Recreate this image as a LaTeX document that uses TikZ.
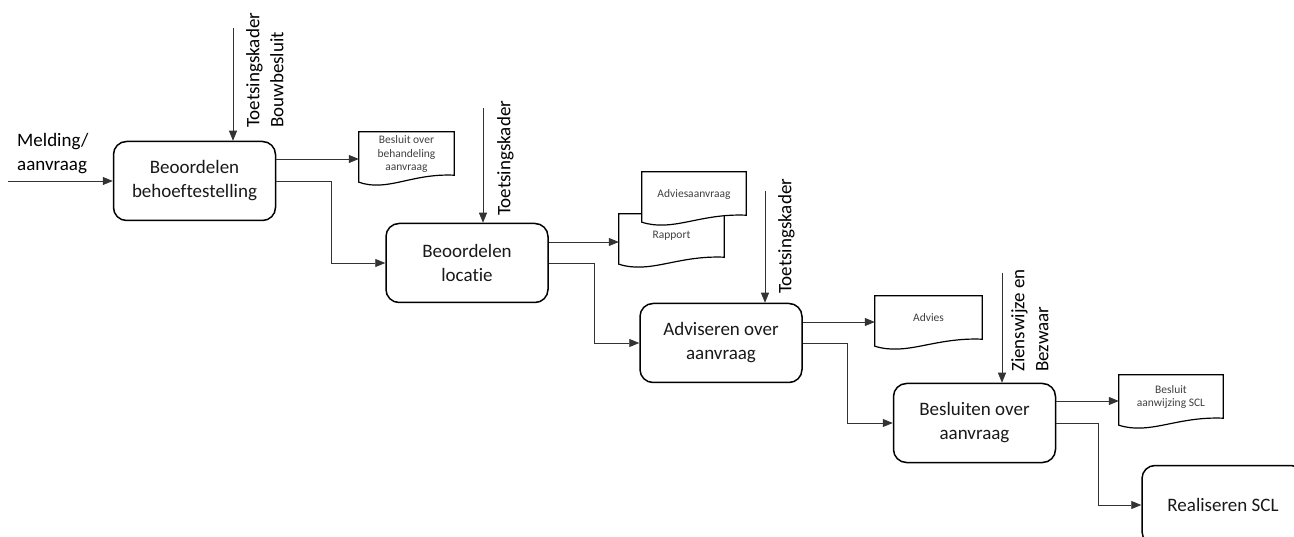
\documentclass[tikz,border=0pt]{standalone}
\usepackage{fontspec}
\setmainfont[Ligatures=NoCommon]{Carlito}
\usetikzlibrary{arrows.meta,calc,positioning}

\tikzset{
  proc/.style={draw, line width=1.5pt, rounded corners=13pt, minimum width=162pt, minimum height=79pt, align=center, text=black!90, font=\fontsize{19}{24}\selectfont},
  docnode/.style={fill=white, inner sep=0pt, minimum height=44pt, align=center, text=black!75, font=\fontsize{11.5}{13.5}\selectfont},
  docline/.style={line width=1.2pt},
  flow/.style={draw=black!80, line width=0.8pt, -{Triangle[length=10pt,width=8pt]}},
  vlabel/.style={rotate=90, anchor=north west, align=left, inner sep=0pt, font=\fontsize{19}{24}\selectfont},
}

% outline of a document with a wavy bottom
\newcommand{\docoutline}[1]{%
  \draw[docline] (#1.north west) -- (#1.north east) -- ([yshift=1pt]#1.south east)
    .. controls ($(#1.south west)!0.55!(#1.south east)+(0pt,3pt)$) and ($(#1.south west)!0.3!(#1.south east)+(0pt,-16pt)$) .. ([yshift=-6pt]#1.south west) -- cycle;}

\begin{document}
\begin{tikzpicture}[x=1pt, y=-1pt]
    \useasboundingbox (0,0) rectangle (1294,537);
    \fill[white] (0,0) rectangle (1294,537);
    \clip (0,0) rectangle (1294,537);

    % Processes
    \node[proc] (b1) at (194.5,181) {Beoordelen\\behoeftestelling};
    \node[proc] (b2) at (467,263) {Beoordelen\\locatie};
    \node[proc] (b3) at (721,343) {Adviseren over\\aanvraag};
    \node[proc] (b4) at (974.5,423) {Besluiten over\\aanvraag};
    \node[proc] (b5) at (1223,505) {Realiseren SCL};

    % Input
    \coordinate (in) at (8,181);
    \node[anchor=west, align=left, inner sep=0pt, font=\fontsize{19}{24}\selectfont] (inlab) at (17,154) {Melding/\\aanvraag};
    \draw[flow] (in) -- (b1.west);

    % Controls
    \coordinate (c1) at (233,28);
    \coordinate (c2) at (483,108);
    \coordinate (c3) at (765,191);
    \coordinate (c4) at (1002,273);
    \draw[flow] (c1) -- (c1 |- b1.north);
    \draw[flow] (c2) -- (c2 |- b2.north);
    \draw[flow] (c3) -- (c3 |- b3.north);
    \draw[flow] (c4) -- (c4 |- b4.north);
    \node[vlabel] (l1) at (246,128) {Toetsingskader\\Bouwbesluit};
    \node[vlabel] (l2) at (497,216) {Toetsingskader};
    \node[vlabel] (l3) at (778,294) {Toetsingskader};
    \node[vlabel] (l4) at (1011,372) {Zienswijze en\\Bezwaar};

    % Documents
    \node[docnode, minimum width=95pt] (d1) at (406.5,154) {Besluit over\\behandeling\\aanvraag};
    \docoutline{d1}
    \node[docnode, minimum width=105pt] (d3) at (671.5,236) {Rapport};
    \docoutline{d3}
    \node[docnode, minimum width=104pt] (d2) at (694,194) {Adviesaanvraag};
    \docoutline{d2}
    \node[docnode, minimum width=107pt] (d4) at (928.5,318) {Advies};
    \docoutline{d4}
    \node[docnode, minimum width=104pt] (d5) at (1171,397) {Besluit\\aanwijzing SCL};
    \docoutline{d5}

    % Outputs
    \draw[flow] ([yshift=22pt]b1.east) coordinate (o1) -- (o1 -| d1.west);
    \draw[flow] ([yshift=21pt]b2.east) coordinate (o2) -- (o2 -| d3.west);
    \draw[flow] ([yshift=21pt]b3.east) coordinate (o3) -- (o3 -| d4.west);
    \draw[flow] ([yshift=22pt]b4.east) coordinate (o4) -- (o4 -| d5.west);

    % Flow between processes
    \draw[flow] (b1.east) -- ++(55,0) |- (b2.west);
    \draw[flow] (b2.east) -- ++(46,0) |- (b3.west);
    \draw[flow] (b3.east) -- ++(45,0) |- (b4.west);
    \draw[flow] (b4.east) -- ++(42,0) |- (b5.west);

\end{tikzpicture}
\end{document}
